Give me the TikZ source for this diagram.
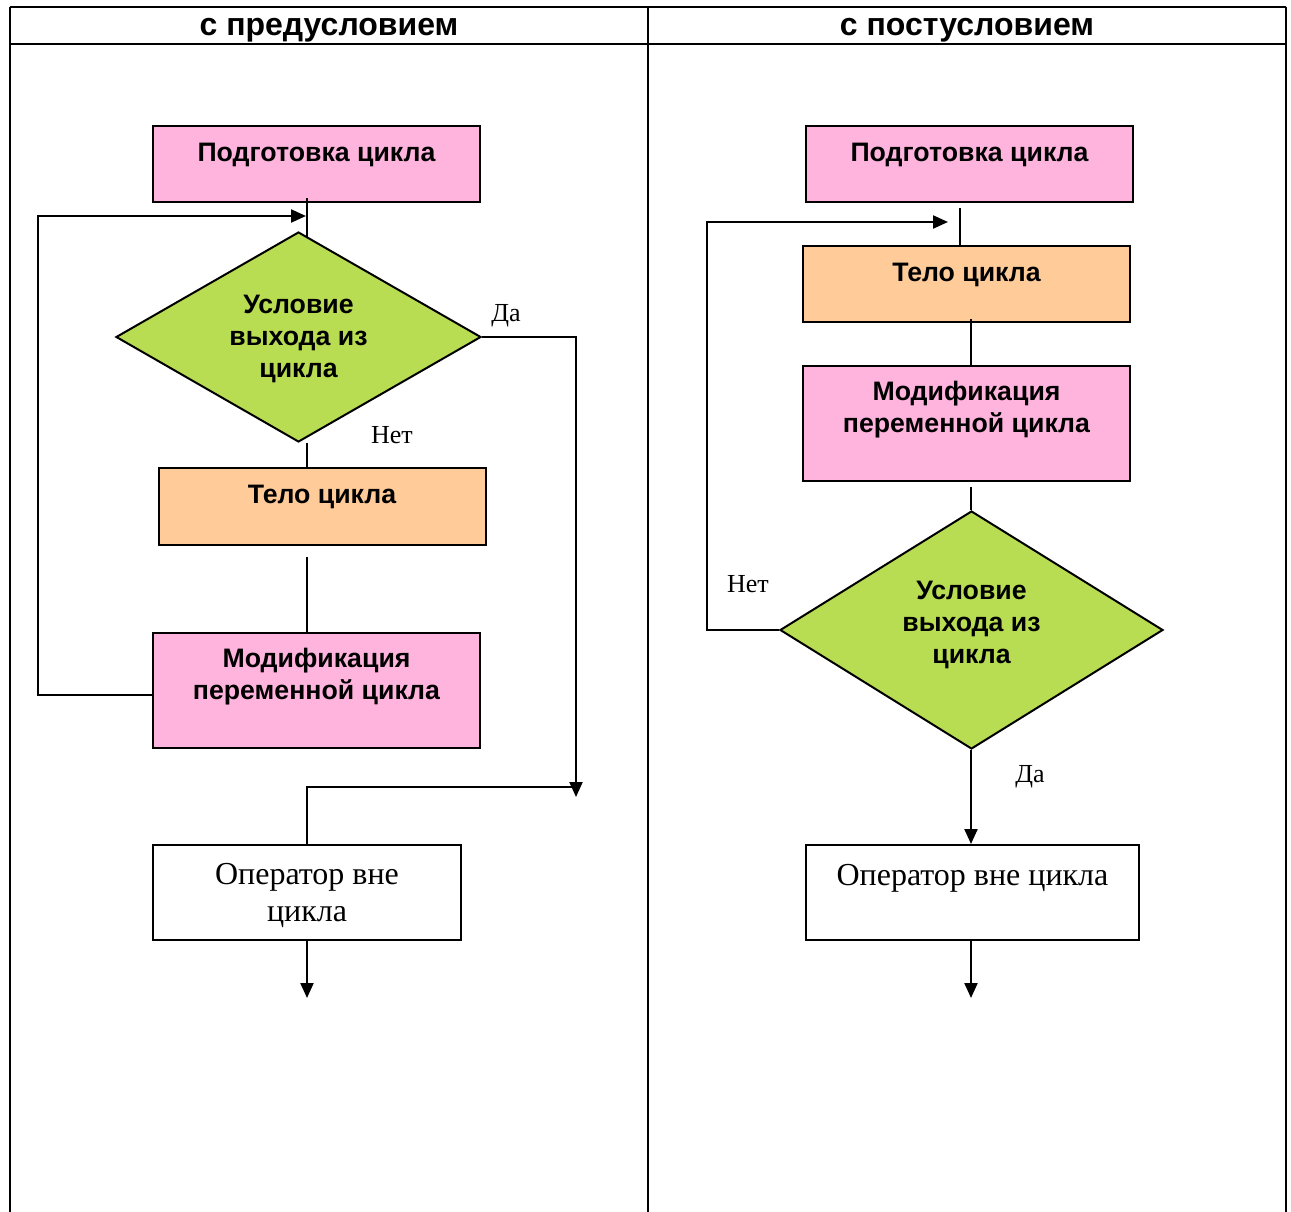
\documentclass[tikz,border=0pt]{standalone}
\usepackage{fontspec}
\setmainfont{Liberation Serif}
\newfontfamily\boxfont{Liberation Sans}
\usetikzlibrary{shapes.geometric,arrows.meta}

\definecolor{pinkC}{RGB}{255,180,222}
\definecolor{orangeC}{RGB}{255,204,153}
\definecolor{greenC}{RGB}{185,221,82}

\tikzset{
  frame/.style={line width=2pt},
  box/.style={draw, line width=2pt, rectangle, inner sep=0pt},
  pinkbox/.style={box, fill=pinkC},
  orangebox/.style={box, fill=orangeC},
  plainbox/.style={box, fill=white},
  optext/.style={anchor=center, align=center,
    font=\fontsize{32}{37}\selectfont},
  cond/.style={draw, line width=2pt, diamond, aspect=1.8, inner sep=0pt,
    fill=greenC},
  lab/.style={anchor=center, align=center,
    font=\boxfont\bfseries\fontsize{26.7}{32}\selectfont},
  head/.style={font=\boxfont\bfseries\fontsize{32}{36}\selectfont},
  note/.style={font=\fontsize{26}{30}\selectfont},
  conn/.style={line width=2pt},
  arr/.style={line width=2.2pt, -{Triangle[length=15pt,width=13pt]}}
}

\begin{document}
\begin{tikzpicture}[x=1pt,y=-1pt]
\useasboundingbox (0,0) rectangle (1291,1212);

% table frame with two columns
\draw[frame] (10,7) -- (1286,7);
\draw[frame] (10,44) -- (1286,44);
\draw[frame] (10,7) -- (10,1212);
\draw[frame] (648,7) -- (648,1212);
\draw[frame] (1286,7) -- (1286,1212);
\node[head] (hL) at (329,30) {с предусловием};
\node[head] (hR) at (967,30) {с постусловием};

% ---------- loop with precondition ----------
\coordinate (colL) at (307,0);
\node[pinkbox, minimum width=327, minimum height=76,
  label={[lab, yshift=-30pt]north:Подготовка цикла}] (prepL) at (316.5,164) {};
\node[cond, minimum width=365, minimum height=210] (dL) at (298.5,337) {};
\node[lab] (dLtext) at (298.5,339) {Условие\\выхода из\\цикла};
\node[orangebox, minimum width=327, minimum height=77,
  label={[lab, yshift=-30pt, xshift=-0.5pt]north:Тело цикла}] (bodyL) at (322.5,506.5) {};
\node[pinkbox, minimum width=327, minimum height=115,
  label={[lab, yshift=-45pt]north:Модификация\\переменной цикла}] (modL) at (316.5,690.5) {};
\node[plainbox, minimum width=308, minimum height=95,
  label={[optext, yshift=-51pt]north:Оператор вне\\цикла}] (opL) at (307,892.5) {};

\coordinate (loopL) at (38,216);
\coordinate (entryL) at (306,216);
\coordinate (daDropL) at (576,797);
\coordinate (joinL) at (576,787);
\coordinate (endL) at (307,998);

\draw[conn] ([yshift=5pt]prepL.south -| colL) -- ([yshift=-6pt]dL.north -| colL);
\draw[conn] (dL.south -| colL) -- (bodyL.north -| colL);
\draw[conn] ([yshift=-11pt]bodyL.south -| colL) -- (modL.north -| colL);
\draw[arr] ([yshift=-4.5pt]modL.west) -| (loopL) -- (entryL);
\draw[arr] (dL.east) -| (daDropL);
\draw[conn] (joinL) -| (opL.north);
\draw[arr] (opL.south) -- (endL);
\node[note] (yesL) at (506,316) {Да};
\node[note] (noL) at (392,435) {Нет};

% ---------- loop with postcondition ----------
\coordinate (colR) at (971,0);
\coordinate (colRtop) at (960,0);
\node[pinkbox, minimum width=327, minimum height=76,
  label={[lab, yshift=-30pt]north:Подготовка цикла}] (prepR) at (969.5,164) {};
\node[orangebox, minimum width=327, minimum height=76,
  label={[lab, yshift=-30pt]north:Тело цикла}] (bodyR) at (966.5,284) {};
\node[pinkbox, minimum width=327, minimum height=115,
  label={[lab, yshift=-45pt]north:Модификация\\переменной цикла}] (modR) at (966.5,423.5) {};
\node[cond, minimum width=383, minimum height=238] (dR) at (971.5,630) {};
\node[lab] (dRtext) at (971.5,625) {Условие\\выхода из\\цикла};
\node[plainbox, minimum width=333, minimum height=95,
  label={[optext, yshift=-34pt]north:Оператор вне цикла}] (opR) at (972.5,892.5) {};

\coordinate (loopR) at (707,222);
\coordinate (entryR) at (948,222);
\coordinate (endR) at (971,998);

\draw[conn] ([yshift=-5pt]prepR.south -| colRtop) -- (bodyR.north -| colRtop);
\draw[conn] ([yshift=4pt]bodyR.south -| colR) -- (modR.north -| colR);
\draw[conn] ([yshift=-5pt]modR.south -| colR) -- (dR.north -| colR);
\draw[arr] (dR.west) -| (loopR) -- (entryR);
\draw[arr] (dR.south -| colR) -- (opR.north -| colR);
\draw[arr] (opR.south -| colR) -- (endR);
\node[note] (noR) at (748,584) {Нет};
\node[note] (yesR) at (1030,777) {Да};
\end{tikzpicture}
\end{document}
